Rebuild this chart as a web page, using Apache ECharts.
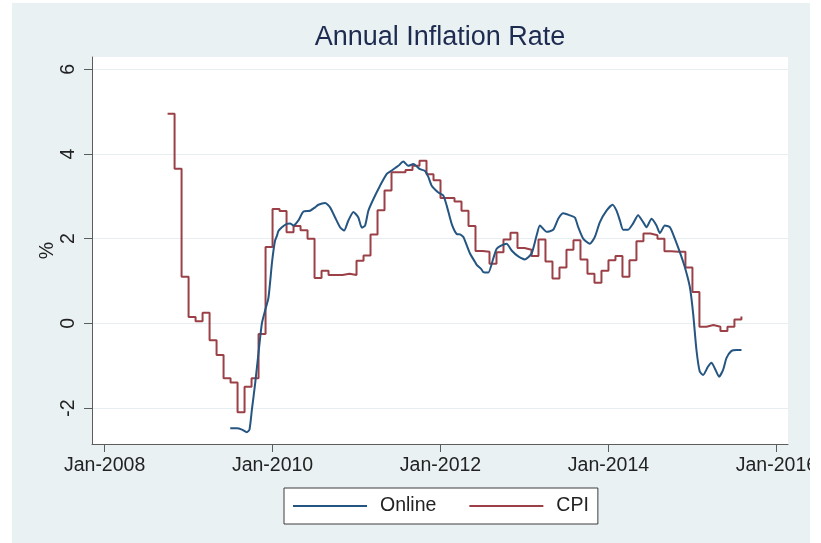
<!DOCTYPE html>
<html>
<head>
<meta charset="utf-8">
<title>Annual Inflation Rate</title>
<script src="https://cdn.jsdelivr.net/npm/echarts@6/dist/echarts.min.js"></script>
<style>
  html, body { margin: 0; padding: 0; background: #fff; }
  #chart { width: 821px; height: 543px; }
</style>
</head>
<body>
<div id="chart"></div>
<script>
// tick values (years) and their labels
const xTicks = [2008, 2010, 2012, 2014, 2016];
const xTickLabels = ['Jan-2008', 'Jan-2010', 'Jan-2012', 'Jan-2014', 'Jan-2016'];
const yTicks = [-2, 0, 2, 4, 6];

// CPI: monthly values, first one is Oct-2008 (month 9 after Jan-2008)
const cpiFirstMonth = 9;
const cpiValues = [
  4.95, 3.65, 1.1, 0.15, 0.05, 0.25, -0.4, -0.75, -1.3, -1.4, -2.1, -1.5,
  -1.3, -0.25, 1.8, 2.7, 2.65, 2.15, 2.3, 2.2, 2.0, 1.07, 1.24, 1.14,
  1.14, 1.17, 1.14, 1.48, 1.6, 2.1, 2.67, 3.14, 3.57, 3.57, 3.62, 3.72,
  3.84, 3.52, 3.38, 2.96, 2.96, 2.88, 2.66, 2.3, 1.71, 1.69, 1.41, 1.68,
  1.98, 2.14, 1.78, 1.74, 1.59, 1.98, 1.46, 1.06, 1.32, 1.74, 1.96, 1.51,
  1.17, 0.96, 1.24, 1.49, 1.59, 1.1, 1.49, 1.94, 2.12, 2.08, 2.0, 1.7,
  1.69, 1.69, 1.32, 0.74, -0.08, -0.04, -0.08, -0.18, -0.08, 0.09, 0.16
];

// Online: dates as decimal years
const onlineDates = [
  2009.496, 2009.575, 2009.635, 2009.694, 2009.725, 2009.754, 2009.793, 2009.832,
  2009.873, 2009.912, 2009.951, 2009.992, 2010.011, 2010.031, 2010.051, 2010.070,
  2010.111, 2010.170, 2010.209, 2010.249, 2010.308, 2010.368, 2010.447, 2010.507,
  2010.546, 2010.626, 2010.685, 2010.745, 2010.804, 2010.852, 2010.903, 2010.963,
  2011.022, 2011.062, 2011.102, 2011.141, 2011.200, 2011.280, 2011.360, 2011.419,
  2011.498, 2011.557, 2011.617, 2011.676, 2011.756, 2011.816, 2011.855, 2011.895,
  2011.974, 2012.033, 2012.074, 2012.133, 2012.193, 2012.232, 2012.271, 2012.292,
  2012.351, 2012.411, 2012.431, 2012.490, 2012.509, 2012.569, 2012.628, 2012.669,
  2012.728, 2012.788, 2012.847, 2012.926, 2013.005, 2013.085, 2013.145, 2013.184,
  2013.264, 2013.342, 2013.402, 2013.461, 2013.541, 2013.600, 2013.640, 2013.699,
  2013.779, 2013.838, 2013.898, 2013.977, 2014.049, 2014.096, 2014.136, 2014.175,
  2014.234, 2014.294, 2014.353, 2014.413, 2014.453, 2014.513, 2014.572, 2014.612,
  2014.671, 2014.731, 2014.790, 2014.850, 2014.909, 2014.969, 2015.008, 2015.048,
  2015.087, 2015.127, 2015.186, 2015.227, 2015.266, 2015.317, 2015.365, 2015.405,
  2015.465, 2015.524, 2015.584
];
const onlineValues = [
  -2.48, -2.48, -2.51, -2.57, -2.51, -2.04, -1.42, -0.71,
  0.0, 0.31, 0.6, 1.41, 1.72, 1.96, 2.06, 2.18,
  2.27, 2.35, 2.36, 2.31, 2.43, 2.64, 2.66, 2.74,
  2.8, 2.84, 2.74, 2.5, 2.27, 2.19, 2.43, 2.63,
  2.5, 2.26, 2.31, 2.66, 2.93, 3.25, 3.53, 3.61,
  3.72, 3.82, 3.72, 3.76, 3.64, 3.6, 3.46, 3.25,
  3.09, 3.02, 2.78, 2.35, 2.11, 2.1, 2.04, 1.95,
  1.65, 1.45, 1.38, 1.27, 1.21, 1.2, 1.53, 1.76,
  1.84, 1.88, 1.72, 1.58, 1.51, 1.65, 2.08, 2.31,
  2.16, 2.21, 2.47, 2.6, 2.55, 2.5, 2.27, 2.0,
  1.88, 2.04, 2.39, 2.66, 2.8, 2.66, 2.43, 2.21,
  2.21, 2.36, 2.55, 2.39, 2.27, 2.47, 2.31, 2.13,
  2.31, 2.27, 2.0, 1.68, 1.33, 0.86, 0.24, -0.63,
  -1.14, -1.22, -1.02, -0.93, -1.06, -1.26, -1.1, -0.82,
  -0.65, -0.63, -0.63
];

const FONT = 'Liberation Sans, Arial, sans-serif';
const chart = echarts.init(document.getElementById('chart'), null, { renderer: 'canvas' });

const cpiData = cpiValues.map((v, i) => [2008 + (cpiFirstMonth + i) / 12, v]);
const onlineData = onlineDates.map((d, i) => [d, onlineValues[i]]);

const option = {
  backgroundColor: '#ffffff',
  animation: false,
  title: {
    text: 'Annual Inflation Rate',
    left: 440,
    top: 24,
    textAlign: 'center',
    padding: 0,
    textStyle: { fontFamily: FONT, fontSize: 27, fontWeight: 'normal', color: '#1e2b50' }
  },
  graphic: [
    { type: 'rect', z: -10, shape: { x: 12, y: 3, width: 798, height: 540 }, style: { fill: '#e9f1f3' } },
    { type: 'rect', z: 100, shape: { x: 810, y: 0, width: 11, height: 543 }, style: { fill: '#ffffff' } }
  ],
  legend: {
    left: 284,
    top: 488,
    padding: [8, 9, 8, 9],
    backgroundColor: '#ffffff',
    borderColor: '#3c3c3c',
    borderWidth: 1,
    borderRadius: 0,
    itemWidth: 74,
    itemHeight: 2,
    itemGap: 33,
    icon: 'rect',
    textStyle: { fontFamily: FONT, fontSize: 19.5, color: '#222', padding: [0, 0, 0, 8] },
    data: ['Online', 'CPI']
  },
  grid: {
    left: 92, top: 57, width: 696, height: 387,
    show: true, backgroundColor: '#ffffff', borderWidth: 0
  },
  xAxis: {
    type: 'value',
    min: 2007.85,
    max: 2016.138,
    axisLine: { onZero: false, lineStyle: { color: '#5c5c5c', width: 1 } },
    axisTick: { customValues: xTicks, length: 8, lineStyle: { color: '#5c5c5c' } },
    axisLabel: {
      customValues: xTicks,
      margin: 12,
      fontFamily: FONT, fontSize: 19.5, color: '#222',
      formatter: v => xTickLabels[xTicks.indexOf(v)]
    },
    splitLine: { show: false }
  },
  yAxis: {
    type: 'value',
    min: -2.85,
    max: 6.29,
    name: '%',
    nameLocation: 'middle',
    nameRotate: 90,
    nameGap: 34,
    nameMoveOverlap: false,
    nameTextStyle: { fontFamily: FONT, fontSize: 19.5, color: '#222' },
    axisLine: { show: true, onZero: false, lineStyle: { color: '#5c5c5c', width: 1 } },
    axisTick: { show: true, customValues: yTicks, length: 8, lineStyle: { color: '#5c5c5c' } },
    axisLabel: {
      customValues: yTicks,
      rotate: 90,
      margin: 13,
      fontFamily: FONT, fontSize: 19.5, color: '#222'
    },
    splitLine: { show: true, lineStyle: { color: '#e6eef1', width: 1 } }
  },
  series: [
    {
      name: 'Online',
      type: 'line',
      data: onlineData,
      showSymbol: false,
      symbol: 'none',
      smooth: 0.2,
      lineStyle: { color: '#255581', width: 2 },
      itemStyle: { color: '#255581' },
      z: 3
    },
    {
      name: 'CPI',
      type: 'line',
      data: cpiData,
      step: 'end',
      showSymbol: false,
      symbol: 'none',
      lineStyle: { color: '#9a4046', width: 2 },
      itemStyle: { color: '#9a4046' },
      z: 2
    }
  ]
};

chart.setOption(option);
</script>
</body>
</html>
